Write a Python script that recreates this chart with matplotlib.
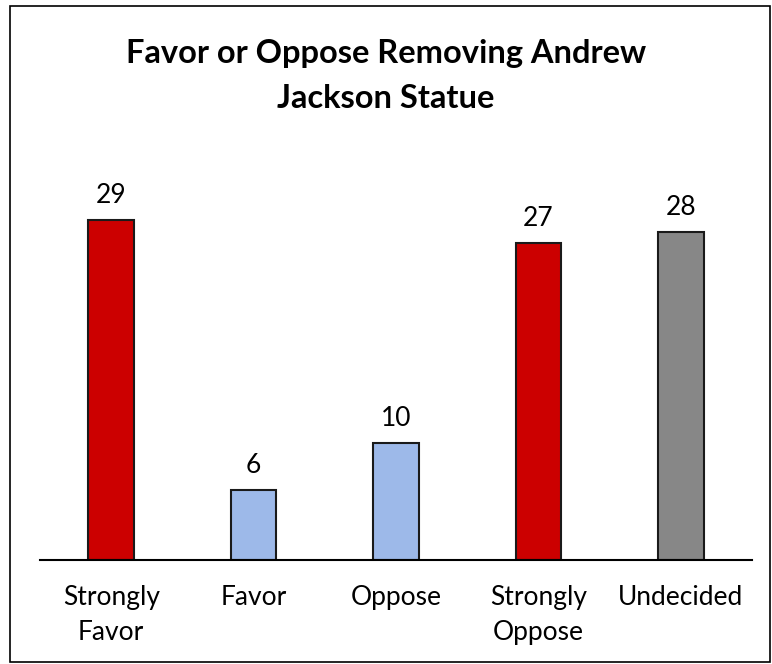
import matplotlib.pyplot as plt
from matplotlib.patches import Rectangle

categories = ["Strongly\nFavor", "Favor", "Oppose", "Strongly\nOppose", "Undecided"]
values = [29, 6, 10, 27, 28]
colors = ["#cc0000", "#9db9e9", "#9db9e9", "#cc0000", "#878787"]
title_lines = ["Favor or Oppose Removing Andrew", "Jackson Statue"]

plt.rcParams["font.family"] = ["Lato", "DejaVu Sans"]

fig = plt.figure(figsize=(7.72, 6.64), dpi=100)
ax = fig.add_axes([0.0518, 0.1566, 0.9222, 0.5723])

x = range(len(categories))
ax.bar(x, values, width=0.32, color=colors, edgecolor="#1a1a1a", linewidth=1.5)

# value labels above bars
for xi, v in zip(x, values):
    ax.annotate(str(v), (xi, v), xytext=(0, 12.2), textcoords="offset points",
                ha="center", va="baseline", fontsize=19)

ax.set_xlim(-0.5, 4.5)
ax.set_ylim(0, 32.4)
ax.set_xticks(list(x))
ax.set_xticklabels(categories, fontsize=19, linespacing=1.5)
ax.tick_params(axis="x", length=0, pad=18)
ax.set_yticks([])
for side in ["top", "right", "left"]:
    ax.spines[side].set_visible(False)
ax.spines["bottom"].set_linewidth(1.5)

# title, two lines placed by baseline
fig.text(0.5, 1 - 63 / 664, title_lines[0], ha="center", va="baseline",
         fontsize=23.5, fontweight="bold")
fig.text(0.5, 1 - 108 / 664, title_lines[1], ha="center", va="baseline",
         fontsize=23.5, fontweight="bold")

# border round the whole chart
fig.patches.append(Rectangle((0.013, 0.003), 0.9845, 0.988, transform=fig.transFigure,
                             fill=False, edgecolor="black", linewidth=1.2))

fig.savefig("out.png", dpi=100)
